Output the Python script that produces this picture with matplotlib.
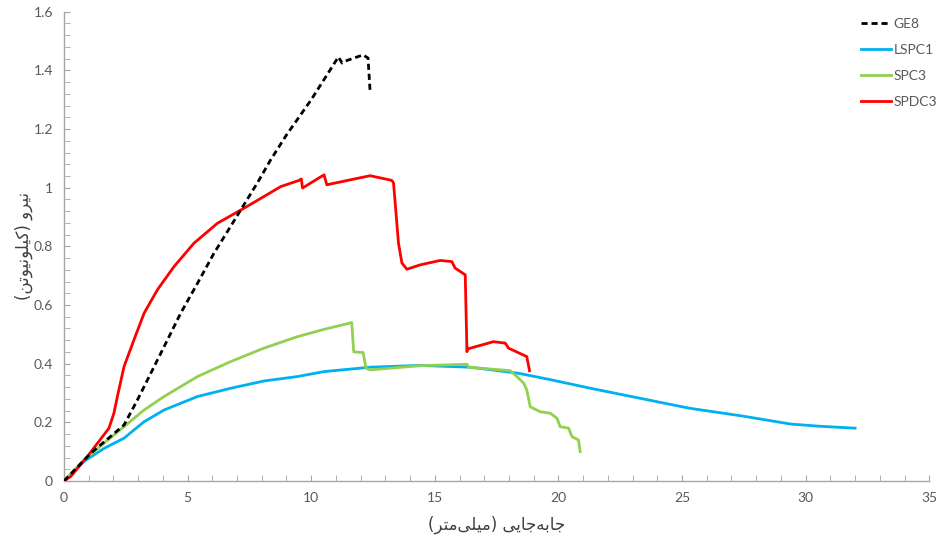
import numpy as np
import matplotlib
matplotlib.use("Agg")
import matplotlib.pyplot as plt
from matplotlib.ticker import MultipleLocator, FuncFormatter

plt.rcParams['font.family'] = ['Lato', 'DejaVu Sans']

# نمودار نیرو - جابه‌جایی
ge8_x = [0, 1.08, 2.43, 2.97, 3.51, 4.05, 4.72, 5.4, 6.07, 6.74, 7.28, 7.82, 8.36, 9.0, 10.0,
         11.1, 11.25, 11.45, 12.1, 12.3, 12.38]
ge8_y = [0, 0.094, 0.191, 0.276, 0.367, 0.458, 0.572, 0.674, 0.777, 0.868, 0.942, 1.016, 1.095,
         1.18, 1.30, 1.446, 1.425, 1.434, 1.453, 1.442, 1.33]

lspc1_x = [0, 0.81, 1.62, 2.43, 3.24, 4.05, 5.4, 6.74, 8.09, 9.44, 10.52, 12.4, 14.4, 16.4, 17.2,
           18.4, 19.7, 21.3, 23.3, 25.3, 27.4, 29.4, 30.5, 32.0]
lspc1_y = [0, 0.067, 0.111, 0.146, 0.202, 0.242, 0.288, 0.316, 0.341, 0.356, 0.373, 0.388, 0.394,
           0.388, 0.38, 0.367, 0.345, 0.316, 0.282, 0.248, 0.222, 0.194, 0.187, 0.18]

spc3_x = [0, 0.81, 1.62, 2.43, 3.24, 4.05, 5.4, 6.74, 8.09, 9.44, 10.52, 11.64, 11.72, 12.1, 12.22,
          12.4, 14.4, 16.3, 16.36, 18.05, 18.32, 18.6, 18.72, 18.86, 19.26, 19.67, 19.94, 20.07,
          20.41, 20.55, 20.81, 20.88]
spc3_y = [0, 0.072, 0.129, 0.185, 0.242, 0.288, 0.356, 0.407, 0.453, 0.492, 0.517, 0.54, 0.44,
          0.438, 0.384, 0.379, 0.393, 0.398, 0.388, 0.376, 0.356, 0.333, 0.31, 0.253, 0.236, 0.231,
          0.214, 0.185, 0.18, 0.151, 0.14, 0.10]

spdc3_x = [0, 0.27, 0.94, 1.82, 2.02, 2.16, 2.43, 2.83, 3.24, 3.78, 4.45, 5.26, 6.21, 7.28, 8.09,
           8.77, 9.51, 9.6, 9.65, 10.52, 10.63, 12.38, 13.26, 13.33, 13.53, 13.67, 13.87, 14.41,
           15.22, 15.69, 15.82, 16.23, 16.3, 16.32, 17.37, 17.85, 17.98, 18.72, 18.83]
spdc3_y = [0, 0.015, 0.083, 0.18, 0.231, 0.288, 0.39, 0.481, 0.572, 0.652, 0.731, 0.811, 0.879,
           0.93, 0.97, 1.004, 1.025, 1.03, 0.999, 1.044, 1.01, 1.041, 1.025, 1.016, 0.811, 0.743,
           0.722, 0.737, 0.752, 0.748, 0.726, 0.703, 0.441, 0.45, 0.475, 0.47, 0.453, 0.424, 0.376]

x_label = "جابه\u200cجایی (میلی\u200cمتر)"
y_label = "نیرو (کیلونیوتن)"

# شکل‌های حروف برای نمایش درست متن فارسی (matplotlib شکل‌دهی نمی‌کند)
# iso, fin, ini, med
FORMS = {
    'ا': ('\uFE8D', '\uFE8E', None, None),
    'ب': ('\uFE8F', '\uFE90', '\uFE91', '\uFE92'),
    'ت': ('\uFE95', '\uFE96', '\uFE97', '\uFE98'),
    'ج': ('\uFE9D', '\uFE9E', '\uFE9F', '\uFEA0'),
    'ر': ('\uFEAD', '\uFEAE', None, None),
    'ل': ('\uFEDD', '\uFEDE', '\uFEDF', '\uFEE0'),
    'م': ('\uFEE1', '\uFEE2', '\uFEE3', '\uFEE4'),
    'ن': ('\uFEE5', '\uFEE6', '\uFEE7', '\uFEE8'),
    'ه': ('\uFEE9', '\uFEEA', '\uFEEB', '\uFEEC'),
    'و': ('\uFEED', '\uFEEE', None, None),
    'ی': ('\uFEEF', '\uFEF0', '\uFEF3', '\uFEF4'),
    'ک': ('\uFB8E', '\uFB8F', '\uFB90', '\uFB91'),
}


def shape_fa(text):
    out = []
    for i, ch in enumerate(text):
        if ch not in FORMS:
            if ch != '\u200c':
                out.append(ch)
            continue
        prev = text[i - 1] if i > 0 else ''
        nxt = text[i + 1] if i + 1 < len(text) else ''
        join_prev = prev in FORMS and FORMS[prev][2] is not None
        join_next = FORMS[ch][2] is not None and nxt in FORMS
        iso, fin, ini, med = FORMS[ch]
        if join_prev and join_next:
            out.append(med)
        elif join_prev:
            out.append(fin)
        elif join_next:
            out.append(ini)
        else:
            out.append(iso)
    vis = ''.join(reversed(out))
    return vis.translate(str.maketrans('()', ')('))


fig = plt.figure(figsize=(9.38, 5.35), dpi=100)
ax = fig.add_axes([0.0682, 0.101, 0.9225, 0.877])

ax.plot(lspc1_x, lspc1_y, color='#00B0F0', lw=2.0, label='LSPC1', zorder=2)
ax.plot(spc3_x, spc3_y, color='#92D050', lw=2.0, label='SPC3', zorder=3)
ax.plot(spdc3_x, spdc3_y, color='#FF0000', lw=2.0, label='SPDC3', zorder=4)
ax.plot(ge8_x, ge8_y, color='black', lw=2.0, dashes=(2.2, 1.4), label='GE8', zorder=5)

ax.set_xlim(0, 35)
ax.set_ylim(0, 1.6)
ax.xaxis.set_major_locator(MultipleLocator(5))
ax.xaxis.set_minor_locator(MultipleLocator(1))
ax.yaxis.set_major_locator(MultipleLocator(0.2))
ax.yaxis.set_minor_locator(MultipleLocator(0.04))
ax.yaxis.set_major_formatter(FuncFormatter(lambda v, p: '{:g}'.format(round(v, 2))))

for s in ['top', 'right']:
    ax.spines[s].set_visible(False)
for s in ['left', 'bottom']:
    ax.spines[s].set_color('#A6A6A6')
    ax.spines[s].set_linewidth(1.0)
ax.tick_params(which='both', direction='in', color='#A6A6A6', labelcolor='#595959', labelsize=10)
ax.tick_params(which='major', length=4, pad=8)
ax.tick_params(which='minor', length=4)

ax.set_xlabel(shape_fa(x_label), family=['DejaVu Sans'], fontsize=12, color='#404040', labelpad=8)
ax.set_ylabel(shape_fa(y_label), family=['DejaVu Sans'], fontsize=12, color='#404040', labelpad=0)

handles, labels = ax.get_legend_handles_labels()
order = [3, 0, 1, 2]
ax.legend([handles[i] for i in order], [labels[i] for i in order],
          loc='upper left', bbox_to_anchor=(0.905, 0.99), bbox_transform=fig.transFigure,
          frameon=False, fontsize=10, labelcolor='#595959', handlelength=2.15,
          handletextpad=0.15, labelspacing=1.0)

fig.savefig('out.png', dpi=100)
